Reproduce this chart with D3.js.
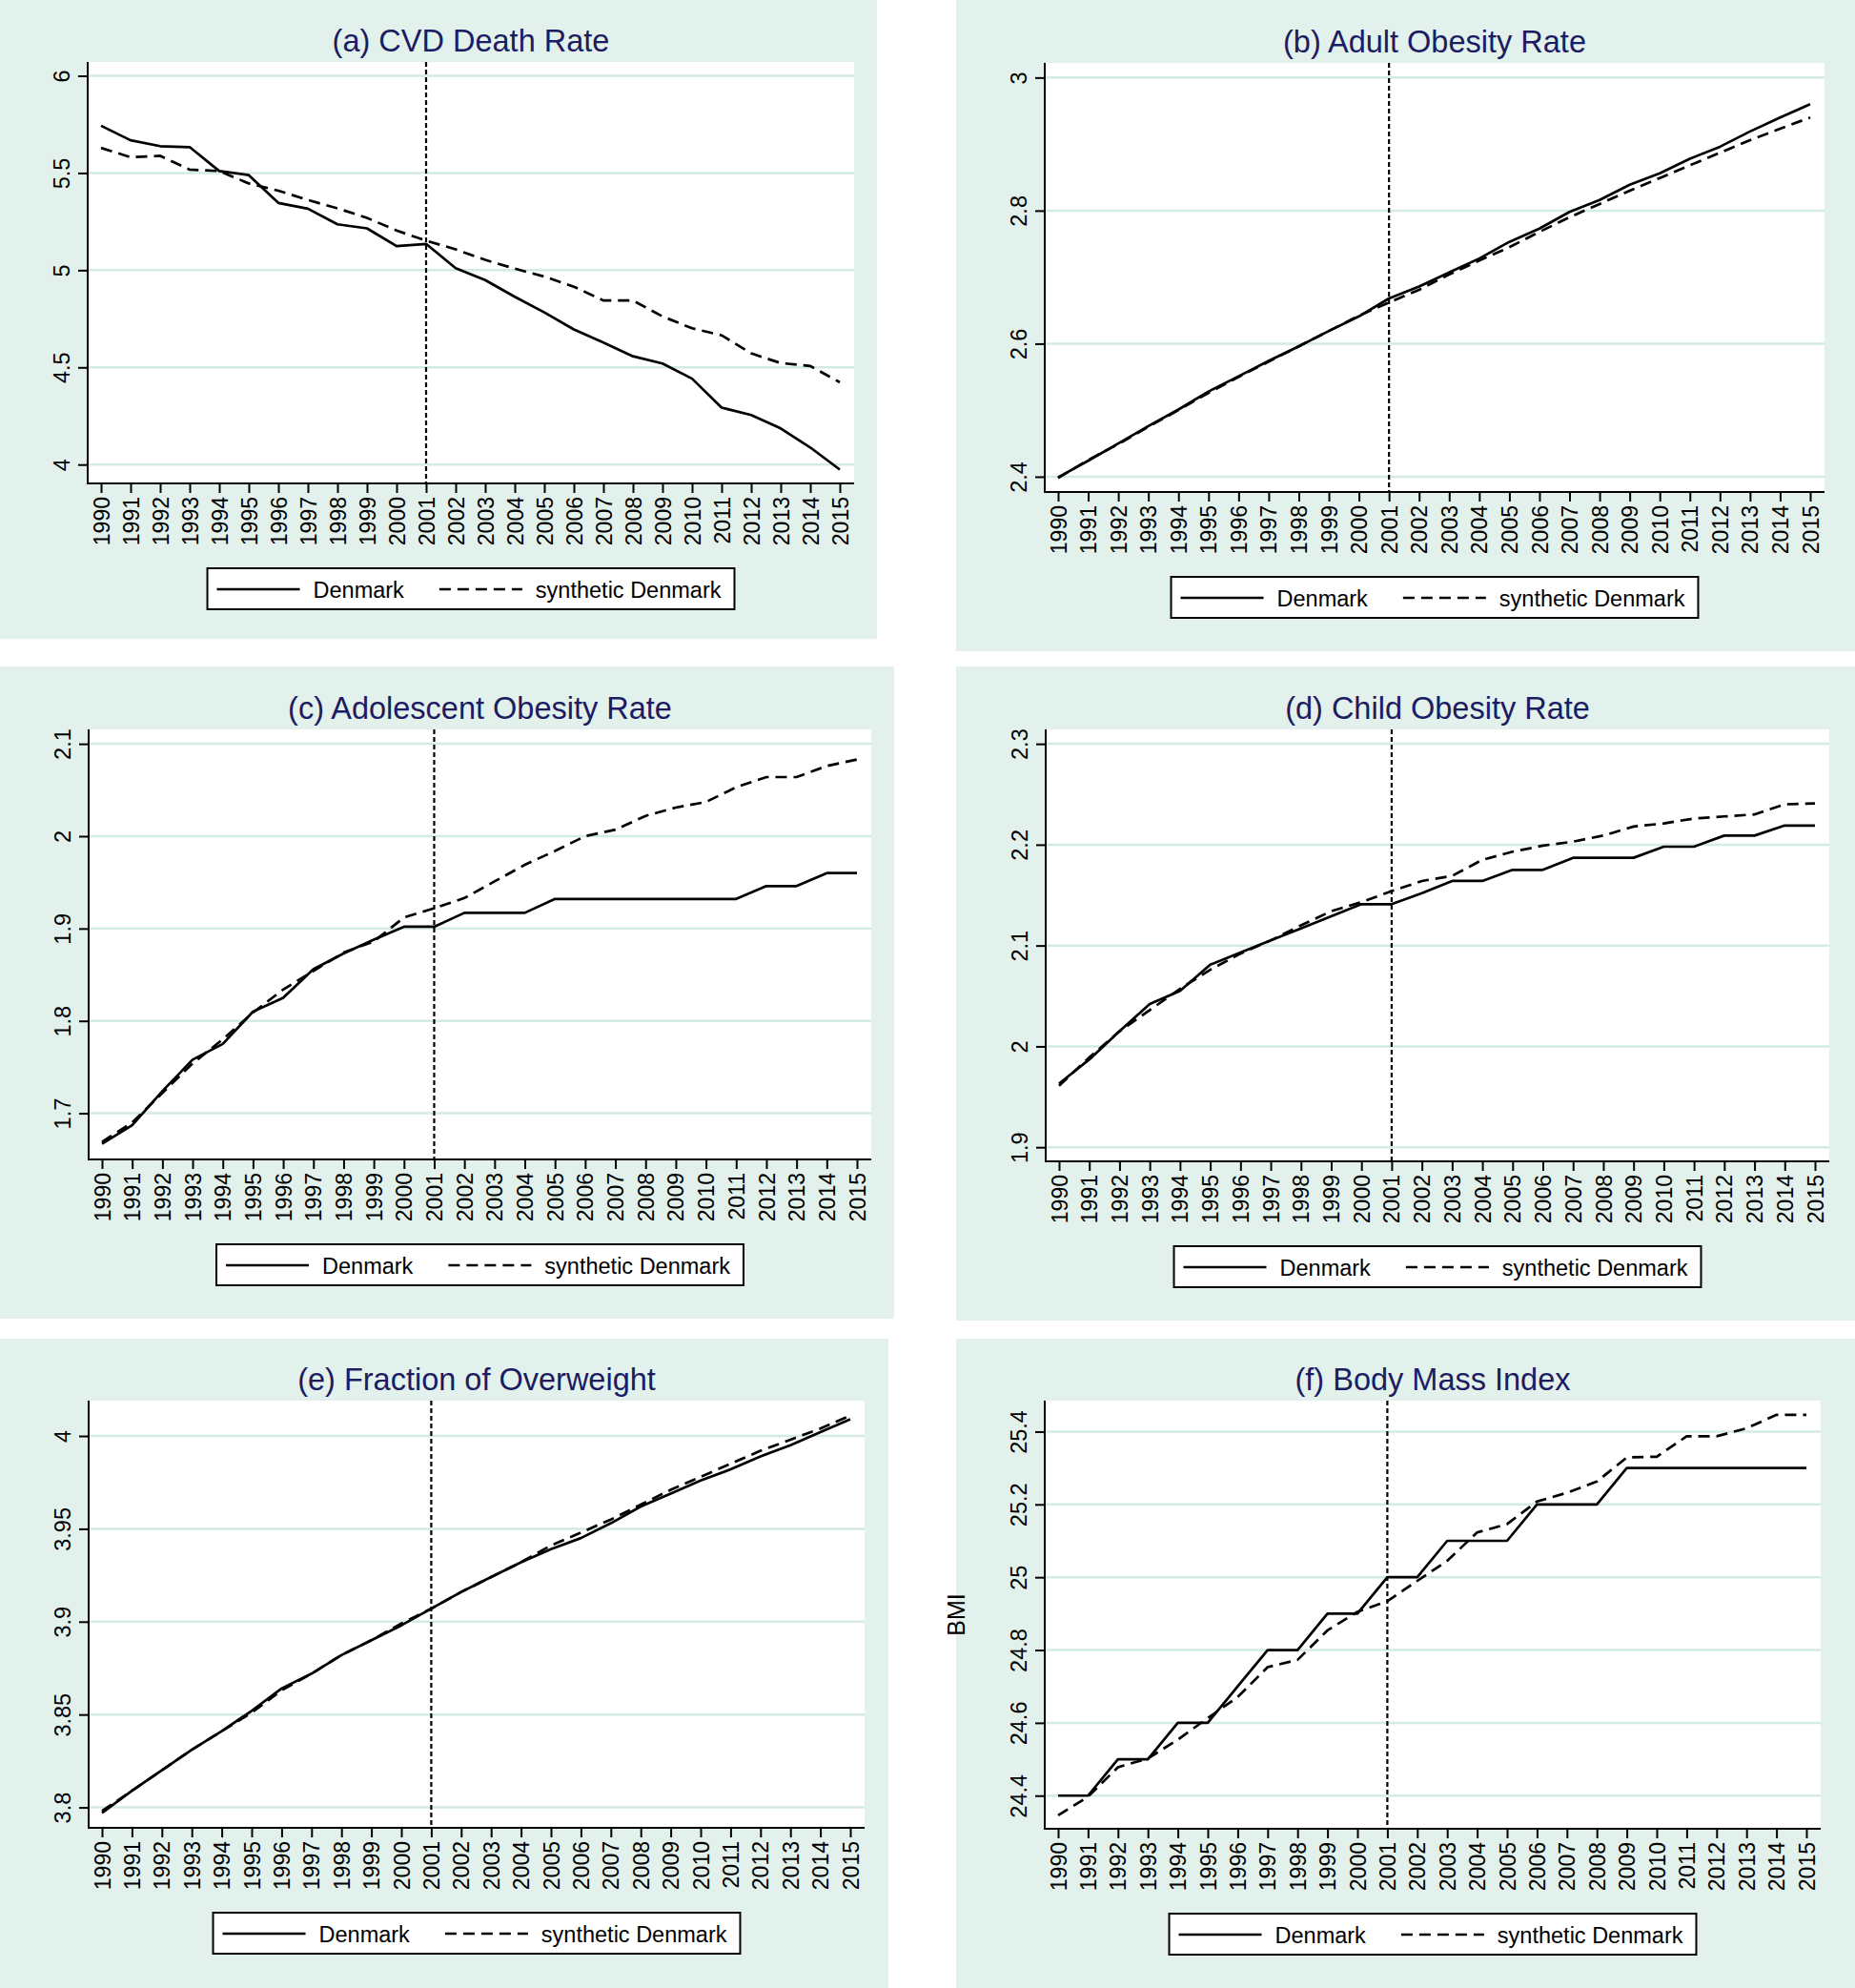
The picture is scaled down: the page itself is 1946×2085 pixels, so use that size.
<!DOCTYPE html>
<html><head><meta charset="utf-8">
<script src="https://cdn.jsdelivr.net/npm/d3@7/dist/d3.min.js"></script>
<style>body{margin:0;background:#fff} svg{display:block}</style>
</head><body>
<svg id="chart" width="1946" height="2085"></svg>
<script>
// ---------- data ----------
const years = [1990,1991,1992,1993,1994,1995,1996,1997,1998,1999,2000,2001,2002,2003,2004,2005,2006,2007,2008,2009,2010,2011,2012,2013,2014,2015];
const treatmentYear = 2001;
const titles = ["(a) CVD Death Rate","(b) Adult Obesity Rate","(c) Adolescent Obesity Rate","(d) Child Obesity Rate","(e) Fraction of Overweight","(f) Body Mass Index"];
const seriesNames = ["Denmark","synthetic Denmark"];

const cvdDenmark   = [5.743,5.668,5.638,5.633,5.510,5.489,5.346,5.316,5.236,5.215,5.124,5.135,5.010,4.949,4.863,4.783,4.695,4.628,4.557,4.520,4.442,4.293,4.255,4.186,4.088,3.974];
const cvdSynthetic = [5.629,5.581,5.588,5.517,5.510,5.446,5.409,5.361,5.318,5.269,5.204,5.152,5.107,5.053,5.008,4.967,4.915,4.844,4.844,4.762,4.701,4.665,4.572,4.522,4.507,4.423];

const adultDenmark   = [2.399,2.424,2.450,2.476,2.501,2.528,2.551,2.574,2.596,2.619,2.641,2.668,2.686,2.707,2.728,2.753,2.773,2.798,2.816,2.839,2.856,2.878,2.896,2.919,2.940,2.960];
const adultSynthetic = [2.398,2.425,2.449,2.475,2.500,2.526,2.550,2.573,2.596,2.619,2.642,2.662,2.681,2.704,2.725,2.745,2.768,2.790,2.810,2.830,2.849,2.868,2.887,2.906,2.923,2.940];

const adolDenmark   = [1.667,1.687,1.724,1.758,1.775,1.810,1.825,1.856,1.873,1.888,1.902,1.902,1.917,1.917,1.917,1.932,1.932,1.932,1.932,1.932,1.932,1.932,1.946,1.946,1.960,1.960];
const adolSynthetic = [1.669,1.690,1.722,1.754,1.780,1.809,1.834,1.854,1.874,1.886,1.912,1.922,1.933,1.951,1.969,1.984,2.000,2.007,2.022,2.031,2.037,2.053,2.064,2.064,2.076,2.083];

const childDenmark   = [1.963,1.987,2.015,2.042,2.055,2.081,2.093,2.105,2.117,2.129,2.141,2.141,2.152,2.164,2.164,2.175,2.175,2.187,2.187,2.187,2.198,2.198,2.209,2.209,2.219,2.219];
const childSynthetic = [1.961,1.989,2.015,2.036,2.057,2.076,2.092,2.105,2.120,2.134,2.143,2.154,2.164,2.169,2.185,2.193,2.199,2.203,2.209,2.218,2.221,2.226,2.228,2.230,2.240,2.241];

const overDenmark   = [3.797,3.809,3.820,3.831,3.841,3.852,3.864,3.872,3.882,3.890,3.898,3.907,3.916,3.924,3.932,3.939,3.945,3.953,3.962,3.969,3.976,3.982,3.989,3.995,4.002,4.009];
const overSynthetic = [3.798,3.809,3.820,3.831,3.841,3.851,3.863,3.872,3.882,3.890,3.899,3.907,3.916,3.924,3.932,3.941,3.948,3.955,3.963,3.971,3.978,3.985,3.992,3.998,4.004,4.011];

const bmiDenmark   = [24.4,24.4,24.5,24.5,24.6,24.6,24.7,24.8,24.8,24.9,24.9,25.0,25.0,25.1,25.1,25.1,25.2,25.2,25.2,25.3,25.3,25.3,25.3,25.3,25.3,25.3];
const bmiSynthetic = [24.346,24.397,24.478,24.502,24.554,24.613,24.671,24.753,24.773,24.854,24.905,24.934,24.990,25.045,25.123,25.146,25.208,25.232,25.263,25.329,25.331,25.387,25.387,25.409,25.446,25.446];

const ticksA = [4,4.5,5,5.5,6];
const ticksB = [2.4,2.6,2.8,3];
const ticksC = [1.7,1.8,1.9,2,2.1];
const ticksD = [1.9,2,2.1,2.2,2.3];
const ticksE = [3.8,3.85,3.9,3.95,4];
const ticksF = [24.4,24.6,24.8,25,25.2,25.4];
const yAxisTitles = ["","","","","","BMI"];

// ---------- layout / style ----------
const BG = "#e3f1ec", GRID = "#d4ebe3", NAVY = "#1c1c62";
const FONT = "'Liberation Sans', Arial, Helvetica, sans-serif";
const LW = 2.7;
const layout = [
  {bg:[0,0,920,670],        plot:[92,896,65,507],     dom:[3.903,6.071]},
  {bg:[1003,0,943,683],     plot:[1096,1914,66,516],  dom:[2.377,3.022]},
  {bg:[0,699,938,684],      plot:[93,914,765,1216],   dom:[1.650,2.1156]},
  {bg:[1003,699,943,686],   plot:[1097,1919,765,1218],dom:[1.886,2.3143]},
  {bg:[0,1404,932,681],     plot:[93,907,1469,1917],  dom:[3.789,4.019]},
  {bg:[1003,1404,943,681],  plot:[1096,1910,1469,1918],dom:[24.309,25.485]}
];
const panelData = [
  [cvdDenmark, cvdSynthetic, ticksA],
  [adultDenmark, adultSynthetic, ticksB],
  [adolDenmark, adolSynthetic, ticksC],
  [childDenmark, childSynthetic, ticksD],
  [overDenmark, overSynthetic, ticksE],
  [bmiDenmark, bmiSynthetic, ticksF]
];

const svg = d3.select("#chart");
svg.append("rect").attr("width",1946).attr("height",2085).attr("fill","#fff");

layout.forEach((L, i) => {
  const [den, syn, ticks] = panelData[i];
  const [l, r, t, b] = L.plot;
  const g = svg.append("g");
  g.append("rect").attr("x",L.bg[0]).attr("y",L.bg[1]).attr("width",L.bg[2]).attr("height",L.bg[3]).attr("fill",BG);
  g.append("rect").attr("x",l).attr("y",t).attr("width",r-l).attr("height",b-t).attr("fill","#fff");

  const x = d3.scaleLinear().domain([years[0], years[years.length-1]]).range([l+14, r-15]);
  const y = d3.scaleLinear().domain(L.dom).range([b, t]);

  // gridlines
  g.selectAll(".grid").data(ticks).enter().append("line")
    .attr("x1",l).attr("x2",r).attr("y1",d=>y(d)).attr("y2",d=>y(d))
    .attr("stroke",GRID).attr("stroke-width",2.5);

  // title
  g.append("text").attr("x",(l+r)/2).attr("y",t-11).attr("text-anchor","middle")
    .attr("font-family",FONT).attr("font-size",32.5).attr("fill",NAVY).text(titles[i]);

  // treatment vertical line
  g.append("line").attr("x1",x(treatmentYear)).attr("x2",x(treatmentYear)).attr("y1",t).attr("y2",b)
    .attr("stroke","#000").attr("stroke-width",2.2).attr("stroke-dasharray","5,3");

  const line = d3.line().x((d,k)=>x(years[k])).y(d=>y(d));
  g.append("path").datum(syn).attr("d",line).attr("fill","none").attr("stroke","#000")
    .attr("stroke-width",LW).attr("stroke-dasharray","12,7");
  g.append("path").datum(den).attr("d",line).attr("fill","none").attr("stroke","#000")
    .attr("stroke-width",LW).attr("stroke-linejoin","round");

  // y axis
  const ya = g.append("g").attr("transform",`translate(${l},0)`)
    .call(d3.axisLeft(y).tickValues(ticks).tickSize(10).tickSizeOuter(0).tickFormat(d=>String(d)));
  ya.select(".domain").remove();
  ya.selectAll(".tick line").attr("stroke","#000").attr("stroke-width",2);
  ya.selectAll(".tick text").attr("x",0).attr("y",0).attr("dy",0)
    .attr("transform","translate(-19,0) rotate(-90)").attr("text-anchor","middle")
    .attr("font-family",FONT).attr("font-size",23.5).attr("fill","#000");
  g.append("line").attr("x1",l).attr("x2",l).attr("y1",t).attr("y2",b+1).attr("stroke","#000").attr("stroke-width",2);

  // x axis
  const xa = g.append("g").attr("transform",`translate(0,${b})`)
    .call(d3.axisBottom(x).tickValues(years).tickSize(10).tickSizeOuter(0).tickFormat(d=>String(d)));
  xa.select(".domain").remove();
  xa.selectAll(".tick line").attr("stroke","#000").attr("stroke-width",2);
  xa.selectAll(".tick text").attr("x",0).attr("y",0).attr("dy","0.35em")
    .attr("transform","translate(0,14) rotate(-90)").attr("text-anchor","end")
    .attr("font-family",FONT).attr("font-size",23).attr("fill","#000");
  g.append("line").attr("x1",l-1).attr("x2",r).attr("y1",b).attr("y2",b).attr("stroke","#000").attr("stroke-width",2);

  // y axis title
  if (yAxisTitles[i]) {
    g.append("text").attr("transform",`translate(${L.bg[0]+9},${(t+b)/2}) rotate(-90)`)
      .attr("text-anchor","middle").attr("font-family",FONT).attr("font-size",25).attr("fill","#000")
      .text(yAxisTitles[i]);
  }

  // legend
  const lg = g.append("g");
  const ly = b + 89, lh = 43;
  const box = lg.append("rect").attr("y",ly).attr("height",lh).attr("fill","#fff").attr("stroke","#000").attr("stroke-width",2);
  const inner = lg.append("g");
  let cx = 10;
  seriesNames.forEach((name, k) => {
    inner.append("line").attr("x1",cx).attr("x2",cx+87).attr("y1",ly+22).attr("y2",ly+22)
      .attr("stroke","#000").attr("stroke-width",LW).attr("stroke-dasharray", k===1 ? "12,7" : null);
    cx += 87 + 14;
    const tx = inner.append("text").attr("x",cx).attr("y",ly+31).attr("font-family",FONT)
      .attr("font-size",23.5).attr("fill","#000").text(name);
    cx += tx.node().getComputedTextLength();
    cx += (k===0) ? 37 : 14;
  });
  const lw = cx;
  const lx = (l+r)/2 - lw/2;
  box.attr("x",lx).attr("width",lw);
  inner.attr("transform",`translate(${lx},0)`);
});
</script>
</body></html>
